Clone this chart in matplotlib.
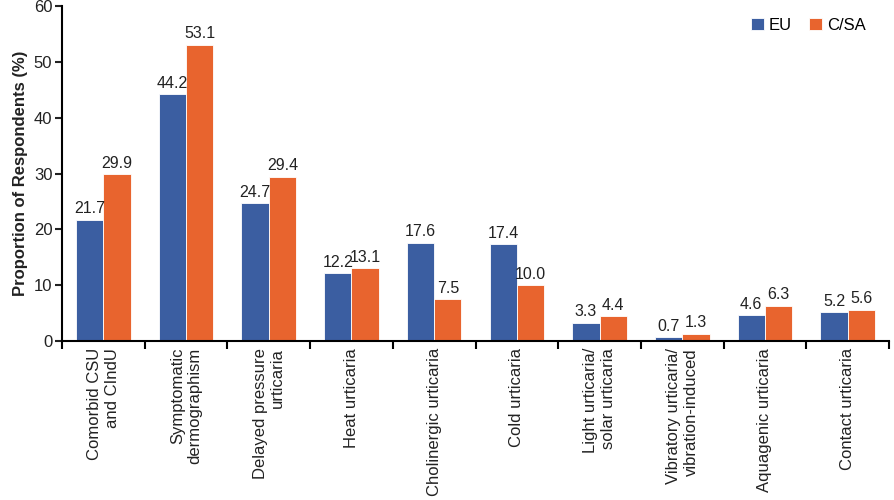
import numpy as np
import matplotlib
matplotlib.use('Agg')
import matplotlib.pyplot as plt

plt.rcParams['font.family'] = ['Liberation Sans', 'DejaVu Sans']

# Dữ liệu
categories = ['Comorbid CSU\nand CIndU', 'Symptomatic\ndermographism', 'Delayed pressure\nurticaria',
              'Heat urticaria', 'Cholinergic urticaria', 'Cold urticaria',
              'Light urticaria/\nsolar urticaria', 'Vibratory urticaria/\nvibration-induced',
              'Aquagenic urticaria', 'Contact urticaria']
eu = [21.7, 44.2, 24.7, 12.2, 17.6, 17.4, 3.3, 0.7, 4.6, 5.2]
csa = [29.9, 53.1, 29.4, 13.1, 7.5, 10.0, 4.4, 1.3, 6.3, 5.6]

blue = '#3b5ea1'
orange = '#e8642e'

fig = plt.figure(figsize=(8.94, 5.0), dpi=100)
ax = fig.add_axes([0.0694, 0.318, 0.925, 0.67])

x = np.arange(len(categories))
w = 0.33
b1 = ax.bar(x - w / 2, eu, w, color=blue, edgecolor='white', linewidth=0.6, label='EU')
b2 = ax.bar(x + w / 2, csa, w, color=orange, edgecolor='white', linewidth=0.6, label='C/SA')

# nhãn giá trị trên mỗi cột
for bars, vals in [(b1, eu), (b2, csa)]:
    for b, v in zip(bars, vals):
        ax.text(b.get_x() + b.get_width() / 2, v + 0.6, f'{v:.1f}',
                ha='center', va='bottom', fontsize=11.5, color='#222222')

ax.set_xlim(-0.5, len(categories) - 0.5)
ax.set_ylim(0, 60)
ax.set_yticks(range(0, 61, 10))
ax.tick_params(axis='y', labelsize=12, direction='out', length=5, width=1.5, pad=2,
               colors='#222222')

# vạch chia ở ranh giới giữa các nhóm
ax.set_xticks(np.arange(-0.5, len(categories), 1.0))
ax.set_xticklabels([])
ax.tick_params(axis='x', direction='out', length=6, width=1.5)
ax.set_xticks(x, minor=True)
ax.set_xticklabels(categories, minor=True, rotation=90, fontsize=12,
                   ha='center', va='top', multialignment='right', color='#222222')
ax.tick_params(axis='x', which='minor', length=0, pad=5)

for s in ['top', 'right']:
    ax.spines[s].set_visible(False)
for s in ['left', 'bottom']:
    ax.spines[s].set_linewidth(1.5)

ax.set_ylabel('Proportion of Respondents (%)', fontsize=12, fontweight='bold', color='#222222')

ax.legend(loc='upper right', frameon=False, fontsize=12, handlelength=0.8, handleheight=0.8,
          ncol=2, columnspacing=1.0, handletextpad=0.3, bbox_to_anchor=(0.99, 1.01))

fig.savefig('out.png', dpi=100)
